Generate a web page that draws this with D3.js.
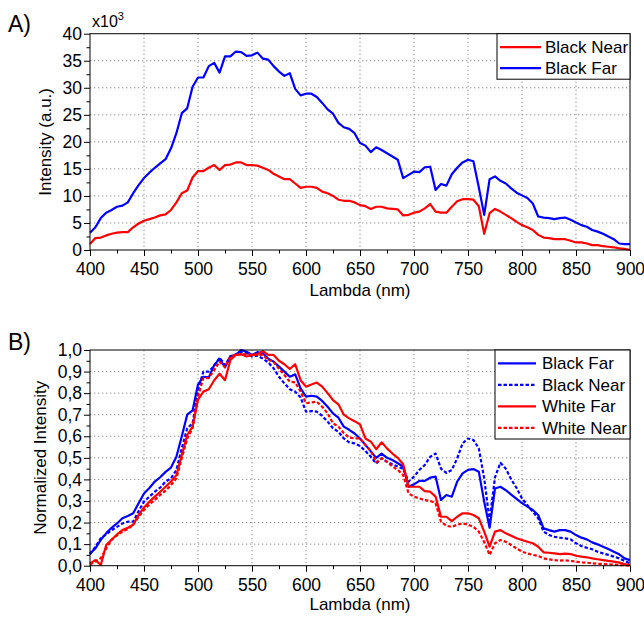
<!DOCTYPE html>
<html>
<head>
<meta charset="utf-8">
<script src="https://cdn.jsdelivr.net/npm/d3@7"></script>
<style>
  body { margin: 0; background: #fff; }
  svg { font-family: "Liberation Sans", Arial, sans-serif; }
  .tick text { font-size: 17.5px; fill: #000; }
  .axis path { display: none; }
  .axis line { stroke: #000; }
  .grid line { stroke: #8f8f8f; stroke-dasharray: 1.3,2.7; }
</style>
</head>
<body>
<svg id="chart" width="644" height="618"></svg>
<script>
// wavelength grid (nm), one sample every 5 nm
const lambda = d3.range(400, 901, 5);

// A) raw intensity, x10^3 a.u.
const blackNearRaw = [
  1.1, 2.2, 2.3, 2.7, 3.0, 3.2, 3.3, 3.3, 4.2, 4.9,
  5.4, 5.7, 6.0, 6.4, 6.6, 7.4, 8.8, 10.5, 11.0, 13.4,
  14.6, 14.6, 15.2, 15.7, 14.8, 15.7, 15.8, 16.2, 16.2, 15.7,
  15.7, 15.6, 15.2, 14.8, 14.1, 13.6, 13.1, 13.1, 12.3, 11.5,
  11.7, 11.7, 11.5, 10.8, 10.5, 10.0, 9.3, 9.1, 9.1, 8.8,
  8.3, 8.1, 7.6, 8.0, 8.0, 7.7, 7.6, 7.5, 6.4, 6.5,
  6.9, 7.1, 7.7, 8.5, 7.1, 6.9, 6.9, 8.0, 9.0, 9.4,
  9.4, 9.3, 8.1, 3.0, 6.8, 7.6, 7.1, 6.5, 5.9, 5.2,
  4.6, 4.2, 3.7, 2.8, 2.3, 2.2, 2.0, 2.0, 2.0, 1.7,
  1.4, 1.4, 1.2, 0.9, 0.9, 0.7, 0.6, 0.5, 0.3, 0.2, 0.0
];
const blackFarRaw = [
  3.2, 4.2, 5.9, 6.9, 7.4, 8.0, 8.2, 8.8, 10.5, 12.0,
  13.3, 14.3, 15.2, 16.0, 16.8, 18.8, 21.6, 25.3, 26.2, 30.2,
  31.9, 31.9, 34.0, 34.6, 32.8, 35.8, 35.8, 36.7, 36.6, 35.9,
  36.0, 36.5, 35.4, 35.2, 34.0, 33.0, 32.2, 32.7, 29.8, 28.6,
  28.9, 28.9, 28.3, 27.2, 26.0, 25.2, 23.5, 22.7, 22.4, 21.6,
  19.8, 19.3, 18.1, 19.0, 18.5, 17.9, 17.3, 16.7, 13.3, 13.9,
  14.5, 14.4, 15.3, 15.4, 11.1, 12.2, 11.9, 14.0, 15.2, 16.2,
  16.7, 16.4, 11.6, 6.5, 13.1, 13.6, 12.8, 12.3, 11.4, 10.6,
  10.1, 9.6, 8.6, 6.2, 6.0, 5.9, 5.7, 5.9, 6.0, 5.6,
  5.1, 4.6, 4.3, 3.7, 3.4, 3.0, 2.5, 2.0, 1.2, 1.1, 1.1
];

// B) normalized intensity
const blackFarNorm = [
  0.057, 0.080, 0.120, 0.150, 0.176, 0.196, 0.220, 0.230, 0.243, 0.290,
  0.335, 0.360, 0.390, 0.410, 0.435, 0.455, 0.505, 0.600, 0.700, 0.720,
  0.840, 0.876, 0.873, 0.930, 0.960, 0.920, 0.972, 0.977, 1.000, 0.992,
  0.977, 0.990, 0.985, 0.960, 0.946, 0.923, 0.900, 0.876, 0.887, 0.822,
  0.784, 0.788, 0.784, 0.764, 0.737, 0.706, 0.686, 0.645, 0.630, 0.613,
  0.590, 0.560, 0.530, 0.500, 0.520, 0.500, 0.490, 0.475, 0.460, 0.366,
  0.377, 0.393, 0.393, 0.408, 0.413, 0.305, 0.328, 0.320, 0.390, 0.428,
  0.444, 0.448, 0.436, 0.297, 0.176, 0.358, 0.366, 0.350, 0.330, 0.310,
  0.290, 0.274, 0.258, 0.235, 0.173, 0.165, 0.158, 0.165, 0.165, 0.158,
  0.142, 0.130, 0.122, 0.108, 0.099, 0.088, 0.077, 0.065, 0.053, 0.034, 0.026
];
const blackNearNorm = [
  0.053, 0.088, 0.127, 0.145, 0.165, 0.180, 0.196, 0.204, 0.204, 0.253,
  0.297, 0.320, 0.343, 0.362, 0.390, 0.405, 0.444, 0.544, 0.637, 0.660,
  0.815, 0.900, 0.900, 0.927, 0.964, 0.930, 0.970, 0.980, 0.990, 0.985,
  0.970, 0.974, 0.960, 0.943, 0.915, 0.876, 0.845, 0.818, 0.807, 0.780,
  0.714, 0.717, 0.714, 0.695, 0.668, 0.637, 0.621, 0.590, 0.572, 0.567,
  0.555, 0.532, 0.505, 0.474, 0.498, 0.482, 0.470, 0.460, 0.448, 0.390,
  0.413, 0.444, 0.467, 0.505, 0.520, 0.450, 0.430, 0.444, 0.498, 0.567,
  0.590, 0.583, 0.544, 0.405, 0.210, 0.410, 0.477, 0.450, 0.400, 0.360,
  0.312, 0.280, 0.250, 0.220, 0.158, 0.142, 0.134, 0.130, 0.127, 0.122,
  0.104, 0.091, 0.083, 0.076, 0.065, 0.057, 0.050, 0.042, 0.034, 0.022, 0.011
];
const whiteFarNorm = [
  0.010, 0.026, 0.003, 0.096, 0.120, 0.145, 0.165, 0.176, 0.190, 0.235,
  0.270, 0.297, 0.320, 0.343, 0.366, 0.390, 0.420, 0.513, 0.606, 0.645,
  0.770, 0.807, 0.818, 0.860, 0.890, 0.860, 0.954, 0.977, 0.980, 0.970,
  0.977, 0.980, 0.995, 0.977, 0.977, 0.950, 0.934, 0.912, 0.934, 0.860,
  0.830, 0.840, 0.849, 0.830, 0.800, 0.768, 0.748, 0.700, 0.683, 0.670,
  0.655, 0.590, 0.575, 0.540, 0.572, 0.544, 0.520, 0.500, 0.470, 0.366,
  0.366, 0.366, 0.346, 0.343, 0.320, 0.227, 0.227, 0.207, 0.227, 0.243,
  0.243, 0.235, 0.220, 0.158, 0.088, 0.158, 0.165, 0.150, 0.139, 0.127,
  0.119, 0.111, 0.104, 0.088, 0.062, 0.060, 0.057, 0.054, 0.056, 0.054,
  0.046, 0.042, 0.039, 0.034, 0.030, 0.026, 0.022, 0.019, 0.014, 0.008, 0.003
];
const whiteNearNorm = [
  0.005, 0.020, 0.035, 0.080, 0.120, 0.140, 0.158, 0.170, 0.190, 0.227,
  0.258, 0.284, 0.305, 0.328, 0.348, 0.374, 0.405, 0.498, 0.590, 0.637,
  0.784, 0.870, 0.870, 0.907, 0.946, 0.920, 0.970, 0.977, 0.980, 0.980,
  0.977, 0.977, 0.977, 0.954, 0.946, 0.912, 0.884, 0.853, 0.850, 0.807,
  0.753, 0.757, 0.760, 0.737, 0.706, 0.660, 0.645, 0.614, 0.594, 0.590,
  0.590, 0.560, 0.532, 0.480, 0.498, 0.482, 0.460, 0.444, 0.420, 0.335,
  0.320, 0.312, 0.304, 0.300, 0.290, 0.204, 0.185, 0.180, 0.190, 0.196,
  0.190, 0.180, 0.158, 0.110, 0.050, 0.104, 0.119, 0.111, 0.096, 0.080,
  0.065, 0.057, 0.050, 0.045, 0.034, 0.029, 0.026, 0.023, 0.025, 0.022,
  0.019, 0.015, 0.014, 0.011, 0.009, 0.008, 0.006, 0.005, 0.003, 0.002, 0.000
];

const xTicks = d3.range(400, 901, 50);
const xMinorTicks = d3.range(425, 900, 50);

const commaFormat = d3.formatLocale({ decimal: ",", thousands: ".", grouping: [3], currency: ["", ""] }).format(".1f");

class SpectrumPanel {

  constructor(_config, _series) {
    this.config = {
      svg: _config.svg,
      left: _config.left || 90,
      top: _config.top,
      width: _config.width || 540,
      height: _config.height,
      yDomain: _config.yDomain,
      yTicks: _config.yTicks,
      yMinorTicks: _config.yMinorTicks,
      yFormat: _config.yFormat || d3.format("d"),
      yTitle: _config.yTitle,
      yTitleX: _config.yTitleX,
      xTitleY: _config.xTitleY,
      label: _config.label,
      labelY: _config.labelY,
      legend: _config.legend
    };
    this.series = _series;
    this.initVis();
    this.renderVis();
  }

  initVis() {
    const vis = this;
    const c = vis.config;

    vis.x = d3.scaleLinear().domain([400, 900]).range([0, c.width]);
    vis.y = d3.scaleLinear().domain(c.yDomain).range([c.height, 0]);

    vis.chart = c.svg.append("g")
      .attr("transform", `translate(${c.left},${c.top})`);

    // dotted grid at major ticks
    vis.chart.append("g")
      .attr("class", "grid")
      .selectAll("line.gx")
      .data(xTicks.slice(1, -1))
      .join("line")
      .attr("x1", d => vis.x(d)).attr("x2", d => vis.x(d))
      .attr("y1", 0).attr("y2", c.height);

    vis.chart.append("g")
      .attr("class", "grid")
      .selectAll("line.gy")
      .data(c.yTicks.slice(1, -1))
      .join("line")
      .attr("x1", 0).attr("x2", c.width)
      .attr("y1", d => vis.y(d)).attr("y2", d => vis.y(d));

    vis.chart.append("g")
      .attr("class", "axis")
      .attr("transform", `translate(0,${c.height})`)
      .call(d3.axisBottom(vis.x).tickValues(xTicks).tickSize(6).tickPadding(7).tickFormat(d3.format("d")));

    vis.chart.append("g")
      .attr("class", "axis")
      .attr("transform", `translate(0,${c.height})`)
      .call(d3.axisBottom(vis.x).tickValues(xMinorTicks).tickSize(3.5).tickFormat(""));

    vis.chart.append("g")
      .attr("class", "axis")
      .call(d3.axisLeft(vis.y).tickValues(c.yTicks).tickSize(6).tickPadding(2).tickFormat(c.yFormat));

    vis.chart.append("g")
      .attr("class", "axis")
      .call(d3.axisLeft(vis.y).tickValues(c.yMinorTicks).tickSize(3.5).tickFormat(""));

    vis.line = d3.line()
      .x(d => vis.x(d[0]))
      .y(d => vis.y(d[1]));

    c.svg.append("text")
      .attr("transform", `translate(${c.yTitleX},${c.top + c.height / 2}) rotate(-90)`)
      .attr("text-anchor", "middle")
      .style("font-size", "17px")
      .text(c.yTitle);

    c.svg.append("text")
      .attr("x", c.left + c.width / 2)
      .attr("y", c.xTitleY)
      .attr("text-anchor", "middle")
      .style("font-size", "17px")
      .text("Lambda (nm)");

    c.svg.append("text")
      .attr("x", 8)
      .attr("y", c.labelY)
      .style("font-size", "23px")
      .text(c.label);
  }

  renderVis() {
    const vis = this;
    const c = vis.config;

    vis.chart.selectAll(".spectrum")
      .data(vis.series)
      .join("path")
      .attr("class", "spectrum")
      .attr("fill", "none")
      .attr("stroke", d => d.colour)
      .attr("stroke-width", 2.2)
      .attr("stroke-linejoin", "round")
      .attr("stroke-dasharray", d => d.dashed ? "3.5,2" : null)
      .attr("d", d => vis.line(lambda.map((l, i) => [l, d.values[i]])));

    vis.chart.append("rect")
      .attr("width", c.width)
      .attr("height", c.height)
      .attr("fill", "none")
      .attr("stroke", "#000")
      .attr("stroke-width", 1);

    const lg = c.legend;
    const legend = c.svg.append("g")
      .attr("transform", `translate(${lg.x},${lg.y})`);

    legend.append("rect")
      .attr("width", lg.w)
      .attr("height", lg.h)
      .attr("fill", "#fff")
      .attr("stroke", "#000")
      .attr("stroke-width", 1);

    const rows = legend.selectAll(".legend-row")
      .data(lg.order.map(i => vis.series[i]))
      .join("g")
      .attr("class", "legend-row")
      .attr("transform", (d, i) => `translate(0,${lg.rowStart + i * lg.rowStep})`);

    rows.append("line")
      .attr("x1", lg.lineX1).attr("x2", lg.lineX2)
      .attr("stroke", d => d.colour)
      .attr("stroke-width", 2.2)
      .attr("stroke-dasharray", d => d.dashed ? "3.5,2" : null);

    rows.append("text")
      .attr("x", lg.textX)
      .attr("dy", "0.35em")
      .style("font-size", "17px")
      .text(d => d.name);
  }
}

const svg = d3.select("#chart");

new SpectrumPanel({
  svg: svg,
  top: 33.7,
  height: 216.3,
  yDomain: [0, 40],
  yTicks: d3.range(0, 41, 5),
  yMinorTicks: d3.range(2.5, 40, 5),
  yTitle: "Intensity (a.u.)",
  yTitleX: 50.5,
  xTitleY: 296,
  label: "A)",
  labelY: 32,
  legend: { x: 497, y: 33.7, w: 133, h: 45.5, rowStart: 13.5, rowStep: 21, lineX1: 3, lineX2: 44, textX: 48, order: [0, 1] }
}, [
  { name: "Black Near", values: blackNearRaw, colour: "#ff0000", dashed: false },
  { name: "Black Far", values: blackFarRaw, colour: "#0000ff", dashed: false }
]);

svg.append("text")
  .attr("x", 92)
  .attr("y", 26.7)
  .style("font-size", "16px")
  .text("x10")
  .append("tspan")
  .attr("dy", -6.7)
  .style("font-size", "11px")
  .text("3");

new SpectrumPanel({
  svg: svg,
  top: 350,
  height: 215.7,
  yDomain: [0, 1],
  yTicks: d3.range(0, 11).map(d => d / 10),
  yMinorTicks: d3.range(0, 10).map(d => d / 10 + 0.05),
  yFormat: commaFormat,
  yTitle: "Normalized Intensity",
  yTitleX: 45.5,
  xTitleY: 609.5,
  label: "B)",
  labelY: 350,
  legend: { x: 495, y: 350, w: 135, h: 89, rowStart: 13.3, rowStep: 21.5, lineX1: 3, lineX2: 41, textX: 47, order: [0, 1, 2, 3] }
}, [
  { name: "Black Far", values: blackFarNorm, colour: "#0000ff", dashed: false },
  { name: "Black Near", values: blackNearNorm, colour: "#0000ff", dashed: true },
  { name: "White Far", values: whiteFarNorm, colour: "#ff0000", dashed: false },
  { name: "White Near", values: whiteNearNorm, colour: "#ff0000", dashed: true }
]);
</script>
</body>
</html>
